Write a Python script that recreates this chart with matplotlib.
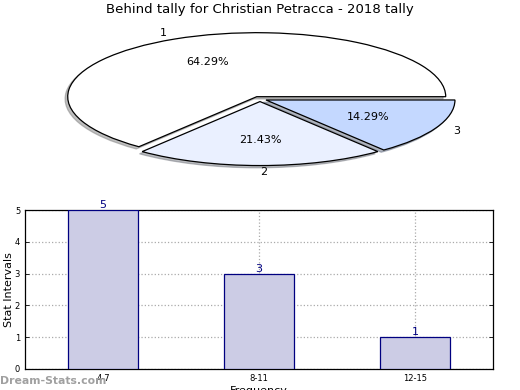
import matplotlib
matplotlib.use("Agg")
import matplotlib.pyplot as plt

# Data
pie_labels = ["1", "2", "3"]
pie_values = [9, 3, 2]
pie_colors = ["#ffffff", "#eaf0ff", "#c4d8ff"]
pie_explode = [0.04, 0.04, 0.035]

bar_categories = ["4-7", "8-11", "12-15"]
bar_values = [5, 3, 1]

title = "Behind tally for Christian Petracca - 2018 tally"

fig = plt.figure(figsize=(5.2, 3.9), dpi=100)

# Pie axes
ax1 = fig.add_axes([0, 0.5, 1, 0.5])
wedges, texts, autotexts = ax1.pie(
    pie_values, labels=pie_labels, colors=pie_colors, explode=pie_explode,
    autopct="%.2f%%", pctdistance=0.6, labeldistance=1.1,
    shadow=dict(ox=-0.01, oy=-0.025, shade=0.5),
    startangle=0, counterclock=True,
    wedgeprops=dict(edgecolor="black", linewidth=0.9),
    textprops=dict(fontsize=8),
)
ax1.set_aspect("auto")
ax1.set_xlim(-260 / 189, 260 / 189)
ax1.set_ylim(-(195 - 99) / 64, 99 / 64)
ax1.axis("off")

fig.text(0.5, 1 - 10 / 390, title, ha="center", va="center", fontsize=9.5)

# Bar axes
ax2 = fig.add_axes([25 / 520, 21 / 390, 468 / 520, 159 / 390])
x = list(range(len(bar_categories)))
bars = ax2.bar(x, bar_values, width=0.45, color="#ccccE5", edgecolor="#000080",
               linewidth=0.9, zorder=3)
for xi, v in zip(x, bar_values):
    ax2.text(xi, v, str(v), ha="center", va="bottom", color="#000080", fontsize=8,
             zorder=4)
ax2.set_xlim(-0.5, 2.5)
ax2.set_ylim(0, 5)
ax2.set_xticks(x)
ax2.set_xticklabels(bar_categories)
ax2.set_yticks(range(0, 6))
ax2.tick_params(direction="in", length=3, labelsize=6, right=True, top=False,
                width=0.6)
ax2.grid(True, linestyle=":", color="#aaaaaa", linewidth=0.9, zorder=0)
ax2.set_axisbelow(True)
ax2.set_ylabel("Stat Intervals", fontsize=8)
ax2.yaxis.set_label_coords(-11 / 468, 0.5)
ax2.set_xlabel("Frequency", fontsize=8, labelpad=2)
for s in ax2.spines.values():
    s.set_linewidth(0.9)

fig.text(0.0, 1 - 381 / 390, "Dream-Stats.com", ha="left", va="center",
         fontsize=7.8, fontweight="bold", color="#a0a0a0")

fig.savefig("out.png", dpi=100)
